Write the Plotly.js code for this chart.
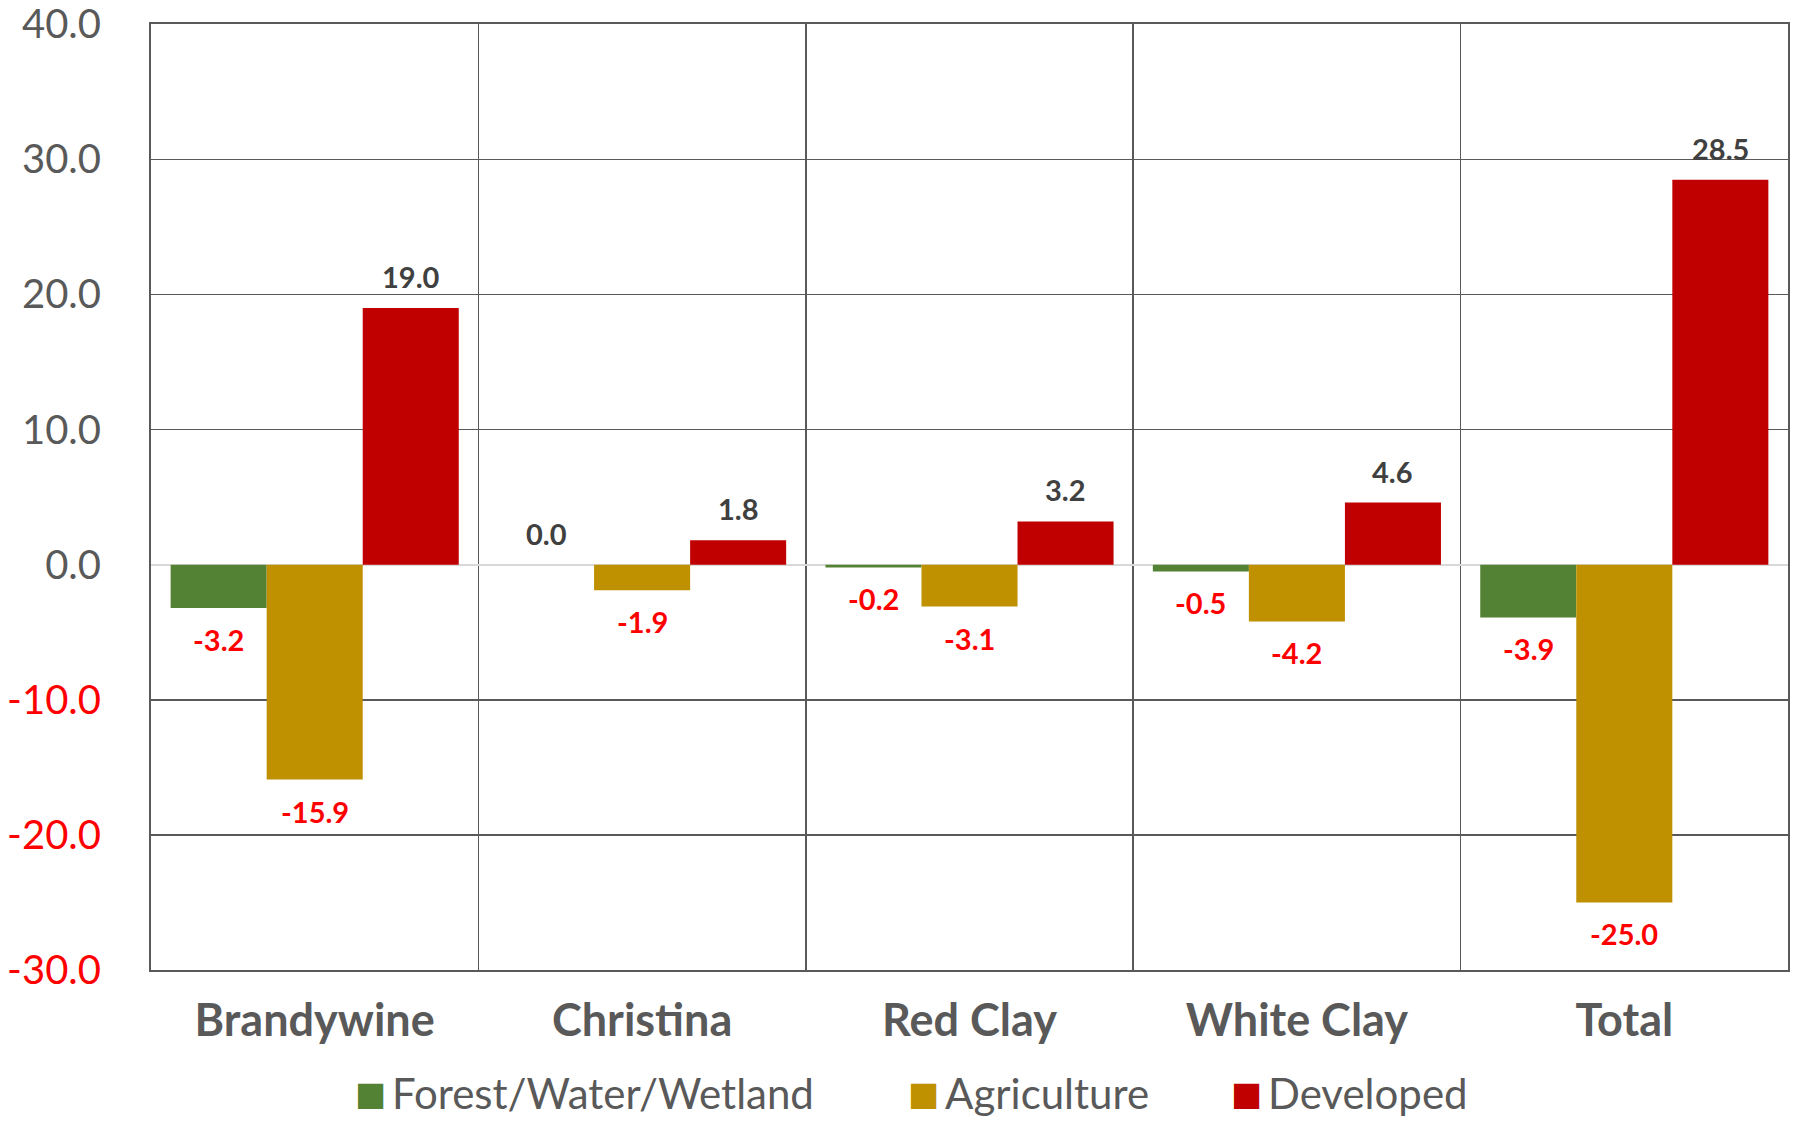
<!DOCTYPE html>
<html>
<head>
<meta charset="utf-8">
<script src="https://cdn.plot.ly/plotly-3.0.1.min.js"></script>
<style>html,body{margin:0;padding:0;background:#fff;}#chart{width:1795px;height:1121px;}</style>
</head>
<body>
<div id="chart"></div>
<script>
const categories = ['Brandywine', 'Christina', 'Red Clay', 'White Clay', 'Total'];
const seriesNames = ['Forest/Water/Wetland', 'Agriculture', 'Developed'];
const forestValues = [-3.2, 0.0, -0.2, -0.5, -3.9];
const agricultureValues = [-15.9, -1.9, -3.1, -4.2, -25.0];
const developedValues = [19.0, 1.8, 3.2, 4.6, 28.5];
const yTickValues = [-30, -20, -10, 0, 10, 20, 30, 40];

const colors = ['#548235', '#BF9000', '#C00000'];
const allValues = [forestValues, agricultureValues, developedValues];
const FONT = 'Lato, "Open Sans", sans-serif';
const GRAY = '#595959';
const LABEL_GRAY = '#404040';
const RED = '#FF0000';
const bargap = 0.12;
const barW = (1 - bargap) / 3;

const traces = allValues.map((vals, i) => ({
  type: 'bar',
  name: seriesNames[i],
  x: categories,
  y: vals,
  marker: {color: colors[i], line: {width: 0}},
  showlegend: false,
  hoverinfo: 'x+y+name'
}));

const annotations = [];
allValues.forEach((vals, i) => {
  vals.forEach((v, c) => {
    const neg = v < 0;
    annotations.push({
      x: c + (i - 1) * barW,
      y: v,
      xref: 'x', yref: 'y',
      text: '<b>' + v.toFixed(1) + '</b>',
      showarrow: false,
      xanchor: 'center',
      yanchor: neg ? 'top' : 'bottom',
      yshift: neg ? -12 : 12,
      font: {family: FONT, size: 29, color: neg ? RED : LABEL_GRAY}
    });
  });
});

// legend built as annotations with large square swatches
const plotLeft = 151, plotWidth = 1637, plotBottom = 970, plotHeight = 946;
const legendCenterPx = 1093;
const legendSwatchPx = [353, 906, 1229];
const legendTextPx = [390, 943, 1266];
const legendY = (plotBottom - legendCenterPx) / plotHeight;
seriesNames.forEach((n, i) => {
  annotations.push({
    x: (legendSwatchPx[i] - plotLeft) / plotWidth, y: legendY, xref: 'paper', yref: 'paper',
    xanchor: 'left', yanchor: 'middle', showarrow: false,
    text: '■',
    font: {family: 'DejaVu Sans', size: 33, color: colors[i]}
  });
  annotations.push({
    x: (legendTextPx[i] - plotLeft) / plotWidth, y: legendY, xref: 'paper', yref: 'paper',
    xanchor: 'left', yanchor: 'middle', showarrow: false,
    text: n,
    font: {family: FONT, size: 42, color: GRAY}
  });
});

const yTickText = yTickValues.map(v => v < 0
  ? '<span style="color:' + RED + '">' + v.toFixed(1) + '</span>'
  : v.toFixed(1));

const layout = {
  width: 1795, height: 1121,
  margin: {l: 151, r: 7, t: 24, b: 151, pad: 0},
  paper_bgcolor: '#ffffff', plot_bgcolor: '#ffffff',
  barmode: 'group', bargap: bargap, bargroupgap: 0,
  showlegend: false,
  font: {family: FONT, color: GRAY},
  xaxis: {
    type: 'category',
    tickson: 'boundaries',
    showgrid: true, gridcolor: GRAY, gridwidth: 1.5,
    showline: true, mirror: true, linecolor: GRAY, linewidth: 2,
    ticks: '',
    ticklabelstandoff: 10,
    tickfont: {family: FONT, size: 45, color: GRAY, weight: 'bold'},
    fixedrange: true
  },
  yaxis: {
    range: [-30, 40.02],
    tickvals: yTickValues,
    ticktext: yTickText,
    showgrid: true, gridcolor: GRAY, gridwidth: 1.5,
    zeroline: true, zerolinecolor: '#d9d9d9', zerolinewidth: 2,
    showline: true, mirror: true, linecolor: GRAY, linewidth: 2,
    ticks: '',
    ticklabelstandoff: 40,
    ticklabeloverflow: 'allow',
    tickfont: {family: FONT, size: 40, color: GRAY},
    fixedrange: true
  },
  annotations: annotations
};

Plotly.newPlot('chart', traces, layout, {displayModeBar: false, staticPlot: true});
</script>
</body>
</html>
